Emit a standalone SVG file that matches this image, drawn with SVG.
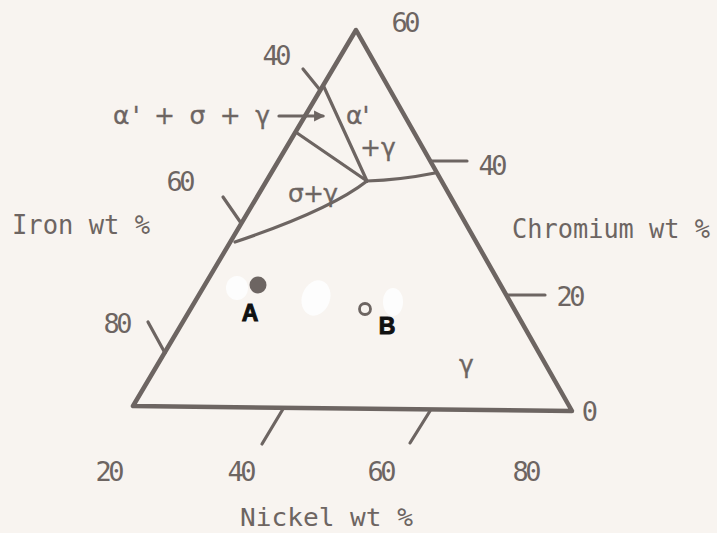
<svg xmlns="http://www.w3.org/2000/svg" width="717" height="533" viewBox="0 0 717 533">
<style>
.ln{stroke:#6d6562;stroke-width:4.5;fill:none;stroke-linecap:round;stroke-linejoin:round}
.th{stroke:#6d6562;stroke-width:3.2;fill:none;stroke-linecap:round}
.lab{font-family:"DejaVu Sans Mono","Liberation Mono",monospace;fill:#6d6562}
.num{font-family:"DejaVu Sans Mono","Liberation Mono",monospace;font-size:27px;fill:#6d6562}
.gr{font-family:"DejaVu Sans","Noto Sans",sans-serif;font-size:25px;fill:#6d6562;stroke:#6d6562;stroke-width:0.3}
.hw{font-family:"Liberation Sans","DejaVu Sans",sans-serif;font-size:23px;font-weight:bold;fill:#111;stroke:#111;stroke-width:1}
</style>
<defs>
<marker id="ah" viewBox="0 0 10 10" refX="8" refY="5" markerWidth="3.5" markerHeight="3.5" orient="auto">
<path d="M0,0 L10,5 L0,10 z" fill="#6d6562"/>
</marker>
</defs>
<rect width="717" height="533" fill="#f8f4f0"/>
<g id="blobs" fill="#fdfdfd">
<ellipse cx="237" cy="288" rx="11" ry="12"/>
<ellipse cx="316" cy="298" rx="14" ry="18" transform="rotate(20 316 298)"/>
<ellipse cx="393" cy="302" rx="10" ry="14"/>
</g>
<g id="triangle">
<path class="ln" d="M356,30 L133,406 L572,411 Z"/>
</g>
<g id="ticks">
<line class="th" x1="320" y1="90" x2="303" y2="69"/>
<line class="th" x1="241" y1="223" x2="223" y2="197"/>
<line class="th" x1="165" y1="353" x2="148" y2="322"/>
<line class="th" x1="432" y1="161" x2="467" y2="161"/>
<line class="th" x1="507" y1="295" x2="545" y2="295"/>
<line class="th" x1="283" y1="409" x2="262" y2="444"/>
<line class="th" x1="430" y1="411" x2="410" y2="443"/>
</g>
<g id="boundaries">
<path class="th" d="M324,87 L367,181"/>
<path class="th" d="M297,133 L367,181"/>
<path class="th" d="M367,181 Q400,180 435,173"/>
<path class="th" d="M367,181 Q330,210 235,242"/>
</g>
<g id="connectors">
<line class="th" x1="279" y1="116" x2="323" y2="116" marker-end="url(#ah)"/>
</g>
<g id="labels">
<text class="num" x="406" y="32" text-anchor="middle" textLength="29">60</text>
<text class="num" x="277" y="65" text-anchor="middle" textLength="29">40</text>
<text class="num" x="181" y="191" text-anchor="middle" textLength="29">60</text>
<text class="num" x="118" y="333" text-anchor="middle" textLength="29">80</text>
<text class="num" x="493" y="175" text-anchor="middle" textLength="29">40</text>
<text class="num" x="571" y="306" text-anchor="middle" textLength="29">20</text>
<text class="num" x="590" y="421" text-anchor="middle">0</text>
<text class="num" x="110" y="481" text-anchor="middle" textLength="29">20</text>
<text class="num" x="242" y="481" text-anchor="middle" textLength="29">40</text>
<text class="num" x="382" y="481" text-anchor="middle" textLength="29">60</text>
<text class="num" x="527" y="481" text-anchor="middle" textLength="29">80</text>
<text class="lab" x="12" y="234" font-size="26" textLength="138" lengthAdjust="spacingAndGlyphs">Iron wt %</text>
<text class="lab" x="512" y="238" font-size="26" textLength="198" lengthAdjust="spacingAndGlyphs">Chromium wt %</text>
<text class="lab" x="240" y="526" font-size="25" textLength="173" lengthAdjust="spacingAndGlyphs">Nickel wt %</text>
<text class="gr" x="113" y="124" textLength="157">α' + σ + γ</text>
<text class="gr" x="346" y="124">α'</text>
<text class="gr" x="360" y="156">+γ</text>
<text class="gr" x="288" y="202" textLength="50">σ+γ</text>
<text class="gr" x="459" y="373">γ</text>
</g>
<g id="pointA">
<circle cx="258" cy="285" r="8.5" fill="#6d6562"/>
<text class="hw" x="250" y="321" text-anchor="middle">A</text>
</g>
<g id="pointB">
<circle cx="365" cy="309" r="5.5" fill="none" stroke="#6d6562" stroke-width="2.8"/>
<text class="hw" x="387" y="334" text-anchor="middle">B</text>
</g>
</svg>
